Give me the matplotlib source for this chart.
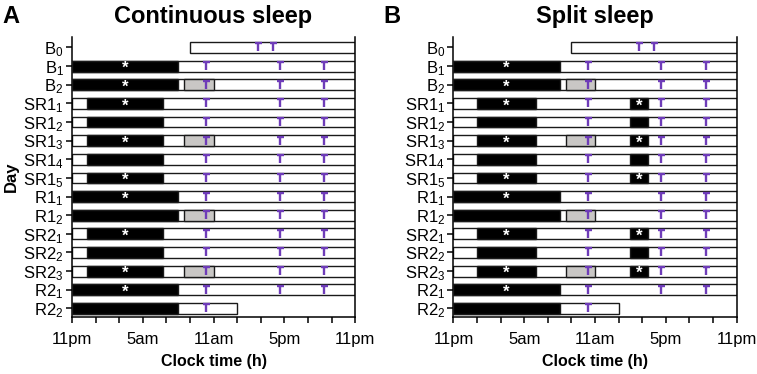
import matplotlib.pyplot as plt
from matplotlib.path import Path

plt.rcParams['font.family'] = ['Liberation Sans', 'DejaVu Sans']
plt.rcParams['mathtext.default'] = 'regular'

# row labels (top to bottom)
days = ['B$_0$', 'B$_1$', 'B$_2$', 'SR1$_1$', 'SR1$_2$', 'SR1$_3$', 'SR1$_4$', 'SR1$_5$',
        'R1$_1$', 'R1$_2$', 'SR2$_1$', 'SR2$_2$', 'SR2$_3$', 'R2$_1$', 'R2$_2$']

# hours after 11pm
day_start = [10, 0, 0, 0, 0, 0, 0, 0, 0, 0, 0, 0, 0, 0, 0]
day_end = [24, 24, 24, 24, 24, 24, 24, 24, 24, 24, 24, 24, 24, 24, 14]

# sleep type for each row: none / full baseline / restricted
kind = ['none', 'full', 'full', 'sr', 'sr', 'sr', 'sr', 'sr',
        'full', 'full', 'sr', 'sr', 'sr', 'full', 'full']
starred = [False, True, True, True, False, True, False, True,
           True, False, True, False, True, True, False]
grey_rows = [False, False, True, False, False, True, False, False,
             False, True, False, False, True, False, False]

full_sleep = [(0, 9)]
continuous_sr = [(1.25, 7.75)]
split_sr = [(2, 7), (15, 16.5)]
grey_block = (9.5, 12)

t_b0 = [15.75, 17]
t_regular = [11.4, 17.6, 21.4]
t_last = [11.4]

xticks = [0, 6, 12, 18, 24]
xticklabels = ['11pm', '5am', '11am', '5pm', '11pm']

# T-shaped marker
t_marker = Path([(-0.4, 0.5), (0.4, 0.5), (0, 0.5), (0, -0.5)],
                [Path.MOVETO, Path.LINETO, Path.MOVETO, Path.LINETO])

H = 0.58
EDGE = '#1a1a1a'
PURPLE = '#6e3cb8'


def draw_panel(ax, sr_blocks, title):
    for i in range(len(days)):
        s, e = day_start[i], day_end[i]
        ax.barh(i, e - s, left=s, height=H, color='white', edgecolor=EDGE, lw=1.0, zorder=2)
        if kind[i] == 'full':
            blocks = full_sleep
        elif kind[i] == 'sr':
            blocks = sr_blocks
        else:
            blocks = []
        for b0, b1 in blocks:
            ax.barh(i, b1 - b0, left=b0, height=H, color='black', edgecolor=EDGE, lw=1.0, zorder=3)
            if starred[i]:
                ax.text((b0 + b1) / 2, i + 0.14, '*', color='white', ha='center', va='center',
                        fontsize=12, fontweight='bold', zorder=5)
        if grey_rows[i]:
            ax.barh(i, grey_block[1] - grey_block[0], left=grey_block[0], height=H,
                    color='#c9c7c5', edgecolor=EDGE, lw=1.0, zorder=3)
        if i == 0:
            tt = t_b0
        elif i == len(days) - 1:
            tt = t_last
        else:
            tt = t_regular
        ax.plot(tt, [i] * len(tt), ls='none', marker=t_marker, ms=6.3,
                mec=PURPLE, mew=1.7, zorder=6)

    ax.set_xlim(0, 24)
    ax.set_ylim(14.47, -0.56)
    ax.set_yticks(range(len(days)))
    ax.set_yticklabels(days, fontsize=12)
    ax.set_xticks(xticks)
    ax.set_xticklabels(xticklabels, fontsize=12)
    ax.set_xticks(range(0, 25, 2), minor=True)
    ax.tick_params(axis='x', which='both', length=4, width=1.1, pad=7)
    ax.tick_params(axis='y', length=4, width=1.1, pad=2)
    ax.spines['top'].set_visible(False)
    for sp in ['left', 'right', 'bottom']:
        ax.spines[sp].set_linewidth(1.1)
    ax.set_xlabel('Clock time (h)', fontsize=11.5, fontweight='bold', labelpad=5)
    ax.set_title(title, fontsize=17, fontweight='bold', pad=10)


fig = plt.figure(figsize=(7.57, 3.74), dpi=100)
ax1 = fig.add_axes([0.0951, 0.152, 0.374, 0.749])
ax2 = fig.add_axes([0.599, 0.152, 0.374, 0.749])

draw_panel(ax1, continuous_sr, 'Continuous sleep')
draw_panel(ax2, split_sr, 'Split sleep')
ax1.set_ylabel('Day', fontsize=12, fontweight='bold', labelpad=3)

fig.text(0.003, 0.955, 'A', fontsize=17, fontweight='bold', va='center')
fig.text(0.506, 0.955, 'B', fontsize=17, fontweight='bold', va='center')

fig.savefig('out.png', dpi=100)
